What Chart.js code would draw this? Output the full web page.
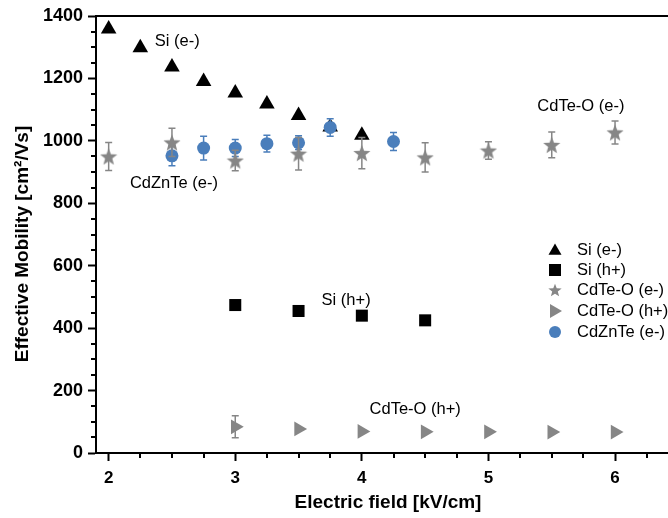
<!DOCTYPE html>
<html>
<head>
<meta charset="utf-8">
<script src="https://cdn.jsdelivr.net/npm/chart.js@4/dist/chart.umd.min.js"></script>
<style>
html,body{margin:0;padding:0;background:#fff;overflow:hidden;}
#wrap{position:relative;width:700px;height:518px;}
</style>
</head>
<body>
<div id="wrap"><canvas id="c"></canvas></div>
<script>
// ---- data ----
const siE_x = [2, 2.25, 2.5, 2.75, 3, 3.25, 3.5, 3.75, 4];
const siE_y = [1358, 1298, 1237, 1190, 1153, 1118, 1081, 1044, 1018];

const siH_x = [3, 3.5, 4, 4.5];
const siH_y = [474, 455, 440, 425];
const siH_err = [12, 10, 0, 0];

const cdteE_x = [2, 2.5, 3, 3.5, 4, 4.5, 5, 5.5, 6];
const cdteE_y = [950, 995, 937, 959, 961, 947, 969, 987, 1027];
const cdteE_err = [45, 45, 33, 52, 50, 47, 28, 41, 37];

const cdteH_x = [3, 3.5, 4, 4.5, 5, 5.5, 6];
const cdteH_y = [84, 77, 69, 68, 68, 67, 67];
const cdteH_err = [35, 0, 0, 0, 0, 0, 0];

const czt_x = [2.5, 2.75, 3, 3.25, 3.5, 3.75, 4.25];
const czt_y = [952, 977, 977, 991, 994, 1043, 998];
const czt_err = [32, 38, 27, 27, 22, 28, 29];

const xTickLabels = ['2', '3', '4', '5', '6'];
const yTickLabels = ['0', '200', '400', '600', '800', '1000', '1200', '1400'];

const seriesNames = ['Si (e-)', 'Si (h+)', 'CdTe-O (e-)', 'CdTe-O (h+)', 'CdZnTe (e-)'];
const xTitle = 'Electric field [kV/cm]';
const yTitle = 'Effective Mobility [cm\u00B2/Vs]';

// in-plot labels: text with anchor (data coords, left-aligned)
const labelTexts = ['Si (e-)', 'CdZnTe (e-)', 'CdTe-O (e-)', 'Si (h+)', 'CdTe-O (h+)'];
const labelX = [2.365, 2.168, 5.386, 3.682, 4.061];
const labelY = [1317, 865, 1109, 490, 138];

// ---- styles ----
const GREY = '#868686';
const BLUE = '#4a7ebb';
const FONT = '"Liberation Sans", Arial, sans-serif';

function starCanvas(size, color) {
  const c = document.createElement('canvas');
  c.width = size; c.height = size;
  const g = c.getContext('2d');
  const cx = size / 2, cy = size / 2 + size * 0.05;
  const R = size / 2, r = R * 0.42;
  g.beginPath();
  for (let i = 0; i < 10; i++) {
    const a = -Math.PI / 2 + i * Math.PI / 5;
    const rr = i % 2 === 0 ? R : r;
    const px = cx + rr * Math.cos(a), py = cy + rr * Math.sin(a);
    if (i === 0) g.moveTo(px, py); else g.lineTo(px, py);
  }
  g.closePath();
  g.fillStyle = color;
  g.fill();
  return c;
}
const starBig = starCanvas(18, GREY);

function pts(xs, ys, errs) {
  return xs.map((x, i) => ({ x: x, y: ys[i], e: errs ? errs[i] : 0 }));
}

const datasets = [
  { label: seriesNames[0], data: pts(siE_x, siE_y), pointStyle: 'triangle', pointRadius: 9,
    backgroundColor: '#000', borderColor: '#000', borderWidth: 0, order: 5, errColor: '#000' },
  { label: seriesNames[1], data: pts(siH_x, siH_y, siH_err), pointStyle: 'rect', pointRadius: 8.5,
    backgroundColor: '#000', borderColor: '#000', borderWidth: 0, order: 4, errColor: '#000' },
  { label: seriesNames[4], data: pts(czt_x, czt_y, czt_err), pointStyle: 'circle', pointRadius: 6.5,
    backgroundColor: BLUE, borderColor: BLUE, borderWidth: 0, order: 3, errColor: BLUE },
  { label: seriesNames[2], data: pts(cdteE_x, cdteE_y, cdteE_err), pointStyle: starBig, pointRadius: 9,
    backgroundColor: GREY, borderColor: GREY, borderWidth: 0, order: 2, errColor: GREY },
  { label: seriesNames[3], data: pts(cdteH_x, cdteH_y, cdteH_err), pointStyle: 'triangle', rotation: 90, pointRadius: 8.5,
    backgroundColor: GREY, borderColor: GREY, borderWidth: 0, order: 1, errColor: GREY }
];

const errorBars = {
  id: 'errorBars',
  beforeDatasetDraw(chart, args) {
    const ds = chart.data.datasets[args.index];
    const meta = args.meta;
    const ys = chart.scales.y;
    const ctx = chart.ctx;
    ctx.save();
    ctx.strokeStyle = ds.errColor;
    ctx.lineWidth = 1.5;
    ds.data.forEach((d, i) => {
      if (!d.e) return;
      const el = meta.data[i];
      const x = el.x;
      const t = ys.getPixelForValue(d.y + d.e);
      const b = ys.getPixelForValue(d.y - d.e);
      ctx.beginPath();
      ctx.moveTo(x, t); ctx.lineTo(x, b);
      ctx.moveTo(x - 3.5, t); ctx.lineTo(x + 3.5, t);
      ctx.moveTo(x - 3.5, b); ctx.lineTo(x + 3.5, b);
      ctx.stroke();
    });
    ctx.restore();
  }
};

function drawTri(ctx, x, y, r, rot) {
  ctx.beginPath();
  for (let k = 0; k < 3; k++) {
    const a = rot + k * 2 * Math.PI / 3;
    const px = x + Math.sin(a) * r, py = y - Math.cos(a) * r;
    if (k === 0) ctx.moveTo(px, py); else ctx.lineTo(px, py);
  }
  ctx.closePath();
  ctx.fill();
}

const decor = {
  id: 'decor',
  afterDraw(chart) {
    const ctx = chart.ctx;
    const xs = chart.scales.x, ys = chart.scales.y;
    const a = chart.chartArea;
    ctx.save();
    // top frame line
    ctx.strokeStyle = '#000';
    ctx.lineWidth = 2;
    ctx.beginPath();
    ctx.moveTo(a.left - 1, a.top);
    ctx.lineTo(chart.width, a.top);
    ctx.stroke();
    // minor ticks
    ctx.lineWidth = 2;
    ctx.beginPath();
    for (let v = 2; v <= 6.6; v += 0.25) {
      if (Math.abs(v - Math.round(v)) < 1e-6) continue;
      const px = Math.round(xs.getPixelForValue(v));
      ctx.moveTo(px, a.bottom); ctx.lineTo(px, a.bottom + 5);
    }
    for (let v = 0; v <= 1400; v += 50) {
      if (v % 200 === 0) continue;
      const py = Math.round(ys.getPixelForValue(v));
      ctx.moveTo(a.left, py); ctx.lineTo(a.left - 5, py);
    }
    ctx.stroke();
    // axis titles
    ctx.fillStyle = '#000';
    ctx.textAlign = 'center';
    ctx.textBaseline = 'middle';
    ctx.font = 'bold 19px ' + FONT;
    ctx.fillText(xTitle, 388, 503);
    ctx.save();
    ctx.translate(23, 244);
    ctx.rotate(-Math.PI / 2);
    ctx.fillText(yTitle, 0, 0);
    ctx.restore();
    // in-plot labels
    ctx.font = '16.5px ' + FONT;
    ctx.textAlign = 'left';
    labelTexts.forEach((t, i) => {
      ctx.fillText(t, xs.getPixelForValue(labelX[i]), ys.getPixelForValue(labelY[i]));
    });
    // legend
    const lx = 555, tx = 577;
    const rows = [250, 270, 290, 311, 332];
    ctx.fillStyle = '#000';
    drawTri(ctx, lx, rows[0] + 1, 7.5, 0);
    ctx.fillRect(lx - 6, rows[1] - 6, 12, 12);
    ctx.drawImage(starCanvas(14, GREY), lx - 7, rows[2] - 7);
    ctx.fillStyle = GREY;
    drawTri(ctx, lx - 1, rows[3], 8, Math.PI / 2);
    ctx.fillStyle = BLUE;
    ctx.beginPath(); ctx.arc(lx, rows[4], 6, 0, Math.PI * 2); ctx.fill();
    ctx.fillStyle = '#000';
    ctx.font = '16.5px ' + FONT;
    seriesNames.forEach((n, i) => ctx.fillText(n, tx, rows[i]));
    ctx.restore();
  }
};

new Chart(document.getElementById('c'), {
  type: 'scatter',
  data: { datasets: datasets },
  options: {
    responsive: true,
    maintainAspectRatio: false,
    animation: false,
    devicePixelRatio: 1,
    layout: { padding: { top: 16, right: 8, left: 0, bottom: 0 } },
    plugins: { legend: { display: false }, tooltip: { enabled: false } },
    elements: { point: { hoverRadius: 0 } },
    scales: {
      x: {
        type: 'linear', min: 1.9, max: 6.6,
        afterFit(s) { s.height = 65; },
        border: { display: true, color: '#000', width: 2 },
        grid: { display: true, drawOnChartArea: false, drawTicks: true, tickLength: 8, tickWidth: 2, tickColor: '#000' },
        ticks: { stepSize: 1, includeBounds: false, color: '#000', padding: 7,
                 callback: (v) => xTickLabels[v - 2] !== undefined ? xTickLabels[v - 2] : '',
                 font: { family: FONT, size: 17, weight: 'bold' } },
        title: { display: false }
      },
      y: {
        type: 'linear', min: 0, max: 1400,
        afterFit(s) { s.width = 96; },
        border: { display: true, color: '#000', width: 2 },
        grid: { display: true, drawOnChartArea: false, drawTicks: true, tickLength: 8, tickWidth: 2, tickColor: '#000' },
        ticks: { stepSize: 200, color: '#000', padding: 5,
                 callback: (v) => yTickLabels[v / 200] !== undefined ? yTickLabels[v / 200] : '',
                 font: { family: FONT, size: 18, weight: 'bold' } },
        title: { display: false }
      }
    }
  },
  plugins: [errorBars, decor]
});
</script>
</body>
</html>
